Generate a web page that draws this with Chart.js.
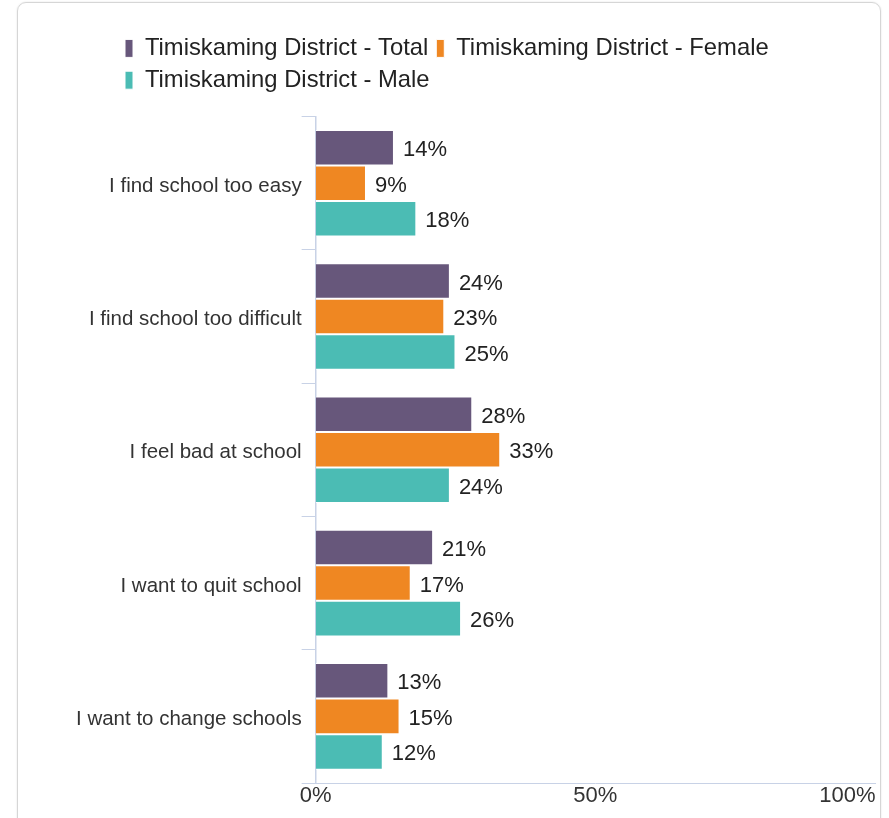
<!DOCTYPE html>
<html>
<head>
<meta charset="utf-8">
<title>School attitudes - Timiskaming District</title>
<script src="https://cdn.jsdelivr.net/npm/chart.js@4.4.1/dist/chart.umd.min.js"></script>
<style>
  html, body { margin: 0; padding: 0; background: #fff; }
  .frame {
    position: absolute; left: 17px; top: 2px; width: 864px; height: 830px;
    box-sizing: border-box; border: 1px solid #d6d6d6; border-radius: 9px;
    box-shadow: 0 0 2px rgba(0, 0, 0, 0.12);
  }
  .chart-wrap { position: absolute; left: 0; top: 0; width: 889px; height: 818px; }
</style>
</head>
<body>
<div class="frame"></div>
<div class="chart-wrap"><canvas id="chart"></canvas></div>
<script>
// Data
const CATEGORIES = [
  'I find school too easy',
  'I find school too difficult',
  'I feel bad at school',
  'I want to quit school',
  'I want to change schools',
];
const TOTAL = [14, 24, 28, 21, 13];
const FEMALE = [9, 23, 33, 17, 15];
const MALE = [18, 25, 24, 26, 12];
const SERIES_NAMES = [
  'Timiskaming District - Total',
  'Timiskaming District - Female',
  'Timiskaming District - Male',
];
const X_TICKS = [0, 50, 100];

// Styling
const FONT = "'Liberation Sans', Arial, Helvetica, sans-serif";
const COLORS = ['#67577b', '#ef8722', '#4bbcb4'];
const AXIS_COLOR = '#c8d2e6';
const TEXT_COLOR = '#333333';
const LEGEND_X = 125;   // left edge of first legend box
const LEGEND_Y = 28.5;  // top of legend block

// Draws the "14%" style labels at the end of each bar
const valueLabels = {
  id: 'valueLabels',
  afterDatasetsDraw(chart) {
    const { ctx } = chart;
    ctx.save();
    ctx.font = `22px ${FONT}`;
    ctx.fillStyle = '#222222';
    ctx.textAlign = 'left';
    ctx.textBaseline = 'middle';
    chart.data.datasets.forEach((ds, i) => {
      chart.getDatasetMeta(i).data.forEach((bar, j) => {
        ctx.fillText(ds.data[j] + '%', bar.x + 9, bar.y + 2.5);
      });
    });
    ctx.restore();
  },
};

// Legend rows are left aligned and sit higher than the plot top
const legendPlacement = {
  id: 'legendPlacement',
  afterLayout(chart) {
    const legend = chart.legend;
    legend.left = LEGEND_X - legend.options.labels.padding;
    legend.top = LEGEND_Y;
  },
};

const seriesData = [TOTAL, FEMALE, MALE];

new Chart(document.getElementById('chart'), {
  type: 'bar',
  data: {
    labels: CATEGORIES,
    datasets: seriesData.map((values, i) => ({
      label: SERIES_NAMES[i],
      data: values,
      backgroundColor: COLORS[i],
      borderColor: '#ffffff',
      borderWidth: 1,
      categoryPercentage: 0.8,
      barPercentage: 1,
    })),
  },
  plugins: [valueLabels, legendPlacement],
  options: {
    indexAxis: 'y',
    responsive: true,
    maintainAspectRatio: false,
    animation: false,
    layout: { padding: { top: 43, left: 76, right: 14, bottom: 8.6 } },
    plugins: {
      legend: {
        position: 'top',
        align: 'start',
        labels: {
          color: '#222222',
          font: { family: FONT, size: 23.8 },
          boxWidth: 8,
          boxHeight: 18,
          padding: 8,
        },
      },
      tooltip: { enabled: false },
    },
    scales: {
      x: {
        min: 0,
        max: 100,
        afterBuildTicks: scale => { scale.ticks = X_TICKS.map(v => ({ value: v })); },
        // last label is right aligned to the axis end, like the reference
        afterFit: scale => { scale.paddingRight = 0; },
        grid: { display: false, drawTicks: false },
        border: { display: true, color: AXIS_COLOR, width: 1 },
        ticks: {
          padding: 0,
          color: TEXT_COLOR,
          font: { family: FONT, size: 22 },
          callback: v => (v === 100 ? '100%' + '\u00a0'.repeat(9) : v + '%'),
        },
      },
      y: {
        grid: {
          display: true,
          drawOnChartArea: false,
          drawTicks: true,
          tickLength: 14,
          color: AXIS_COLOR,
          offset: true,
        },
        border: { display: true, color: AXIS_COLOR, width: 1.5 },
        ticks: {
          padding: 0,
          labelOffset: 3,
          color: TEXT_COLOR,
          font: { family: FONT, size: 20.5 },
        },
      },
    },
  },
});
</script>
</body>
</html>
